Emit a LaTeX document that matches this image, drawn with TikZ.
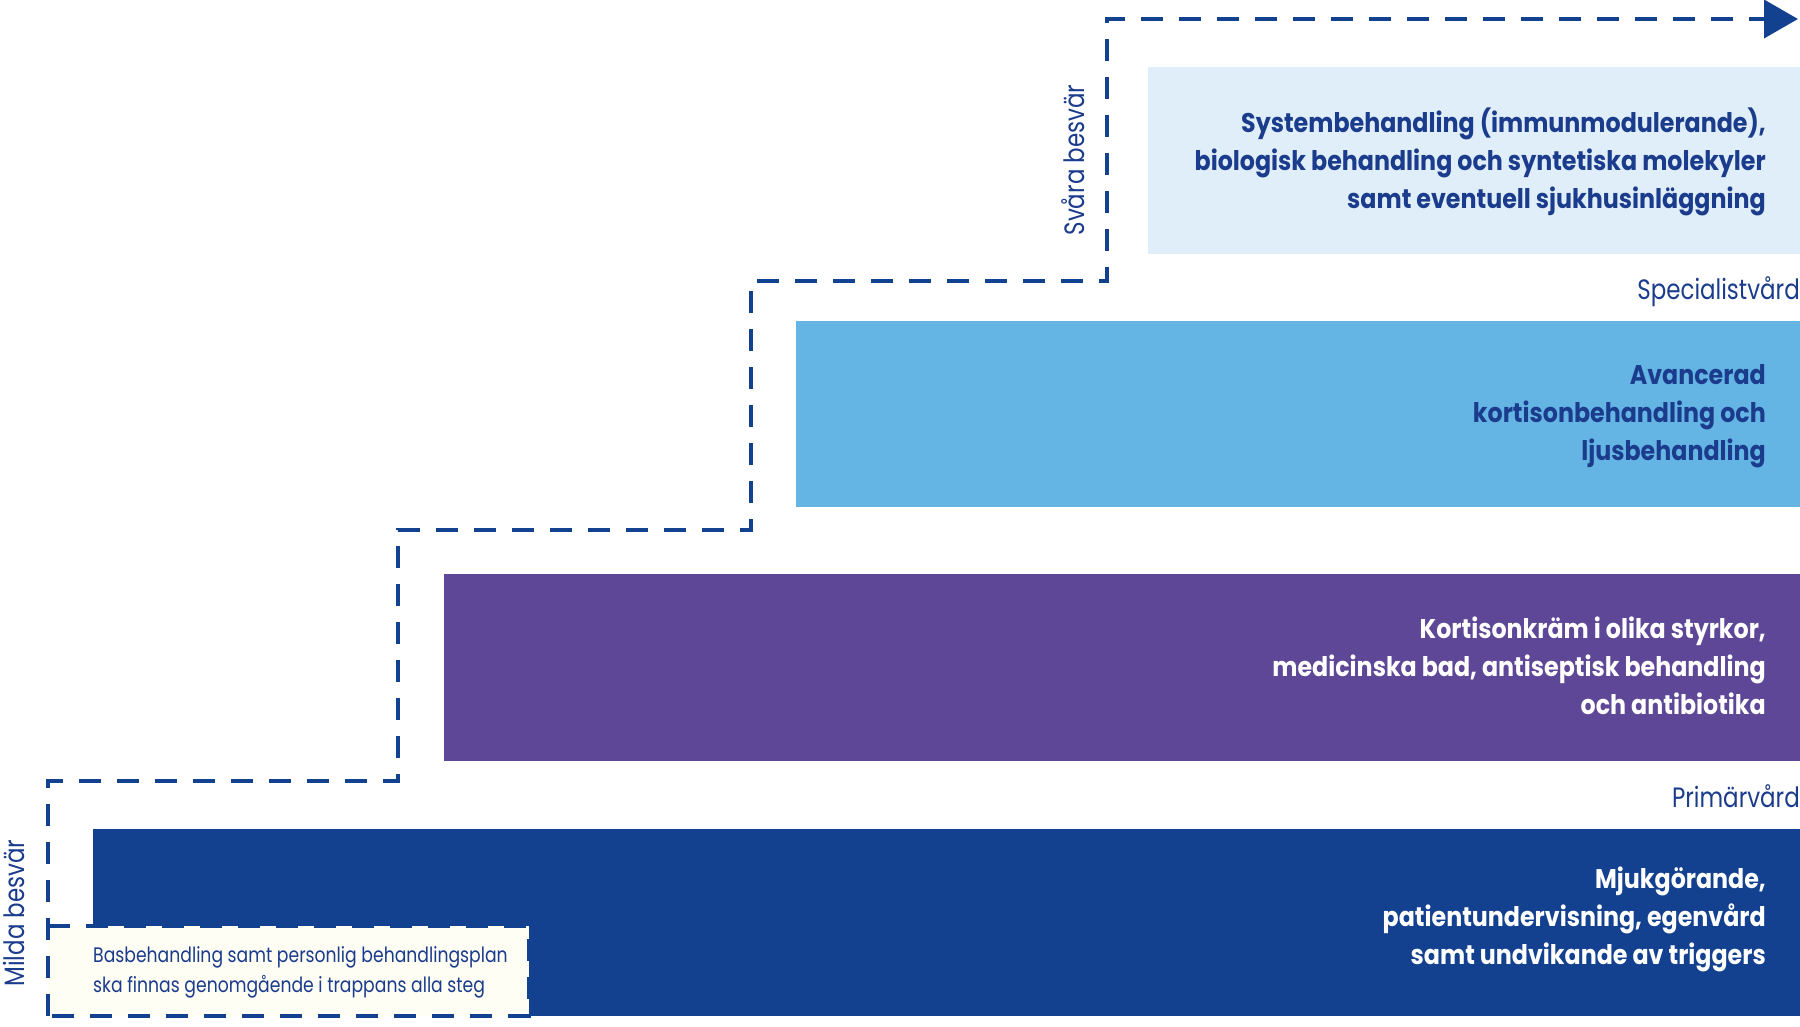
\documentclass[tikz,border=0pt]{standalone}
\usepackage{fontspec}
\setmainfont{Poppins}[FakeStretch=0.82]
\newfontfamily\bandfont{Poppins}[FakeStretch=0.88]
\usetikzlibrary{arrows.meta}
\definecolor{bandA}{HTML}{13418F}
\definecolor{bandB}{HTML}{5D4796}
\definecolor{bandC}{HTML}{65B5E4}
\definecolor{bandD}{HTML}{DFEEF8}
\definecolor{navy}{HTML}{1B3C8C}
\definecolor{stairc}{HTML}{12428F}
\definecolor{cream}{HTML}{FFFEF4}
\begin{document}
\begin{tikzpicture}[x=1pt,y=-1pt,
  band/.style={draw=none, inner sep=0pt, outer sep=0pt, anchor=north west},
  bandtext/.style={font=\bandfont\bfseries\fontsize{27}{38}\selectfont, align=right, inner sep=0pt, anchor=east},
  levellabel/.style={font=\fontsize{28}{32}\selectfont, text=navy, inner sep=0pt},
  stairline/.style={draw=stairc, line width=4pt, dash pattern=on 22pt off 16pt},
]
\useasboundingbox (0,0) rectangle (1800,1027);
% bands
\node[band, fill=bandA, minimum width=1707pt, minimum height=187pt] (b1) at (93,829) {};
\node[band, fill=bandB, minimum width=1356pt, minimum height=187pt] (b2) at (444,574) {};
\node[band, fill=bandC, minimum width=1004pt, minimum height=186pt] (b3) at (796,321) {};
\node[band, fill=bandD, minimum width=652pt, minimum height=187pt] (b4) at (1148,67) {};
% band texts
\node[bandtext, text=white] (t1) at (1766,919) {Mjukgörande,\\patientundervisning, egenvård\\samt undvikande av triggers};
\node[bandtext, text=white] (t2) at (1766,666) {Kortisonkräm i olika styrkor,\\medicinska bad, antiseptisk behandling\\och antibiotika};
\node[bandtext, text=navy] (t3) at (1766,416) {Avancerad\\kortisonbehandling och\\ljusbehandling};
\node[bandtext, text=navy] (t4) at (1766,162) {Systembehandling (immunmodulerande),\\biologisk behandling och syntetiska molekyler\\samt eventuell sjukhusinläggning};
% level labels
\node[levellabel, anchor=east] (spec) at (1800,292) {Specialistvård};
\node[levellabel, anchor=east] (prim) at (1800,796) {Primärvård};
\node[levellabel, rotate=90] (svar) at (1073,160) {Svåra besvär};
\node[levellabel, rotate=90] (mild) at (14,913) {Milda besvär};
% base box
\node[band, fill=cream, minimum width=481pt, minimum height=90pt] (base) at (48,926) {};
\node[font=\fontsize{21}{30}\selectfont, text=navy, align=left, inner sep=0pt, anchor=west] (basetext) at (93,972) {Basbehandling samt personlig behandlingsplan\\ska finnas genomgående i trappans alla steg};
\draw[stairline] (base.north west) -- (base.north east) -- (base.south east) -- (base.south west);
% staircase
\coordinate (p0) at (48,1016);
\coordinate (p1) at (48,781);
\coordinate (p2) at (398,781);
\coordinate (p3) at (398,530);
\coordinate (p4) at (751,530);
\coordinate (p5) at (751,281);
\coordinate (p6) at (1107,281);
\coordinate (p7) at (1107,19);
\coordinate (p8) at (1798,19);
\draw[stairline, -{Triangle[length=34pt,width=38pt]}] (p0) -- (p1) -- (p2) -- (p3) -- (p4) -- (p5) -- (p6) -- (p7) -- (p8);
\end{tikzpicture}
\end{document}
